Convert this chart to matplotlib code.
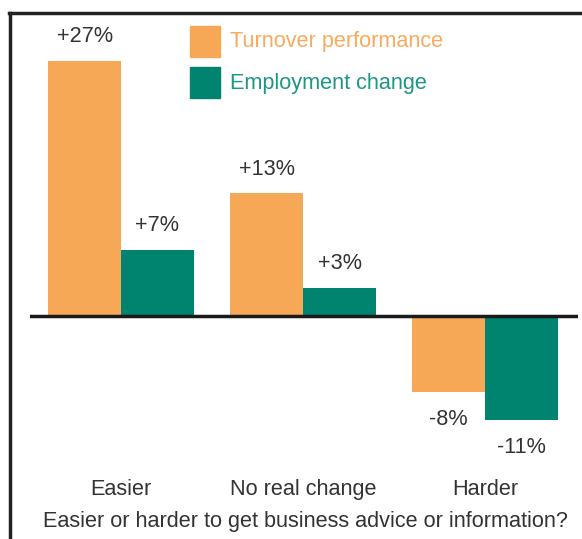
import matplotlib.pyplot as plt
from matplotlib.lines import Line2D
from matplotlib.patches import Rectangle
import numpy as np

plt.rcParams['font.family'] = ['Liberation Sans', 'DejaVu Sans']

categories = ['Easier', 'No real change', 'Harder']
turnover = [27, 13, -8]
employment = [7, 3, -11]
series_names = ['Turnover performance', 'Employment change']
xlabel = 'Easier or harder to get business advice or information?'

ORANGE = '#F7A856'
TEAL = '#00836F'
ORANGE_TXT = '#F8AA5E'
TEAL_TXT = '#1E9684'
TEXT = '#333333'
FS = 15.6

W, H = 582, 539
fig = plt.figure(figsize=(W / 100, H / 100), dpi=100)

# axes placed in pixel terms: zero line from x=30 to x=578
ax_left, ax_right = 30, 578
ax_top, ax_bottom = 13, 470
ax = fig.add_axes([ax_left / W, 1 - ax_bottom / H,
                   (ax_right - ax_left) / W, (ax_bottom - ax_top) / H])

px_per_unit = 9.45
zero_y = 316
ax.set_ylim(-(ax_bottom - zero_y) / px_per_unit, (zero_y - ax_top) / px_per_unit)
ax.set_xlim(-0.5, 2.51)

x = np.arange(len(categories))
width = 0.4
ax.bar(x - width / 2, turnover, width, color=ORANGE, zorder=2)
ax.bar(x + width / 2, employment, width, color=TEAL, zorder=2)
ax.axhline(0, color='#1a1a1a', lw=2.5, zorder=3)

def fmt(v):
    return f'+{v}%' if v > 0 else f'{v}%'

for xs, vals in ((x - width / 2, turnover), (x + width / 2, employment)):
    for xi, v in zip(xs, vals):
        off = 24 if v > 0 else -28
        ax.annotate(fmt(v), (xi, v), xytext=(0, off * 0.72),
                    textcoords='offset points', ha='center', va='center',
                    fontsize=FS, color=TEXT)

for xi, c in zip(x, categories):
    ax.text(xi, -18.4, c, ha='center', va='center', fontsize=FS, color=TEXT)

ax.axis('off')

fig.text(305 / W, 1 - 522 / H, xlabel, ha='center', va='center',
         fontsize=FS, color=TEXT)

# legend drawn as squares plus coloured labels
for i, (name, fc, tc) in enumerate(zip(series_names, (ORANGE, TEAL),
                                       (ORANGE_TXT, TEAL_TXT))):
    top = 26 + i * 41
    fig.patches.append(Rectangle((190 / W, 1 - (top + 31) / H), 30 / W, 31 / H,
                                 transform=fig.transFigure, color=fc))
    fig.text(230 / W, 1 - (top + 16) / H, name, ha='left', va='center',
             fontsize=FS, color=tc)

# frame on the top and left edges
fig.add_artist(Line2D([9 / W, 1], [1 - 13 / H, 1 - 13 / H],
                      transform=fig.transFigure, color='#222222', lw=2.5))
fig.add_artist(Line2D([10 / W, 10 / W], [1 - 13 / H, 0],
                      transform=fig.transFigure, color='#222222', lw=2.5))

fig.savefig('out.png', dpi=100)
